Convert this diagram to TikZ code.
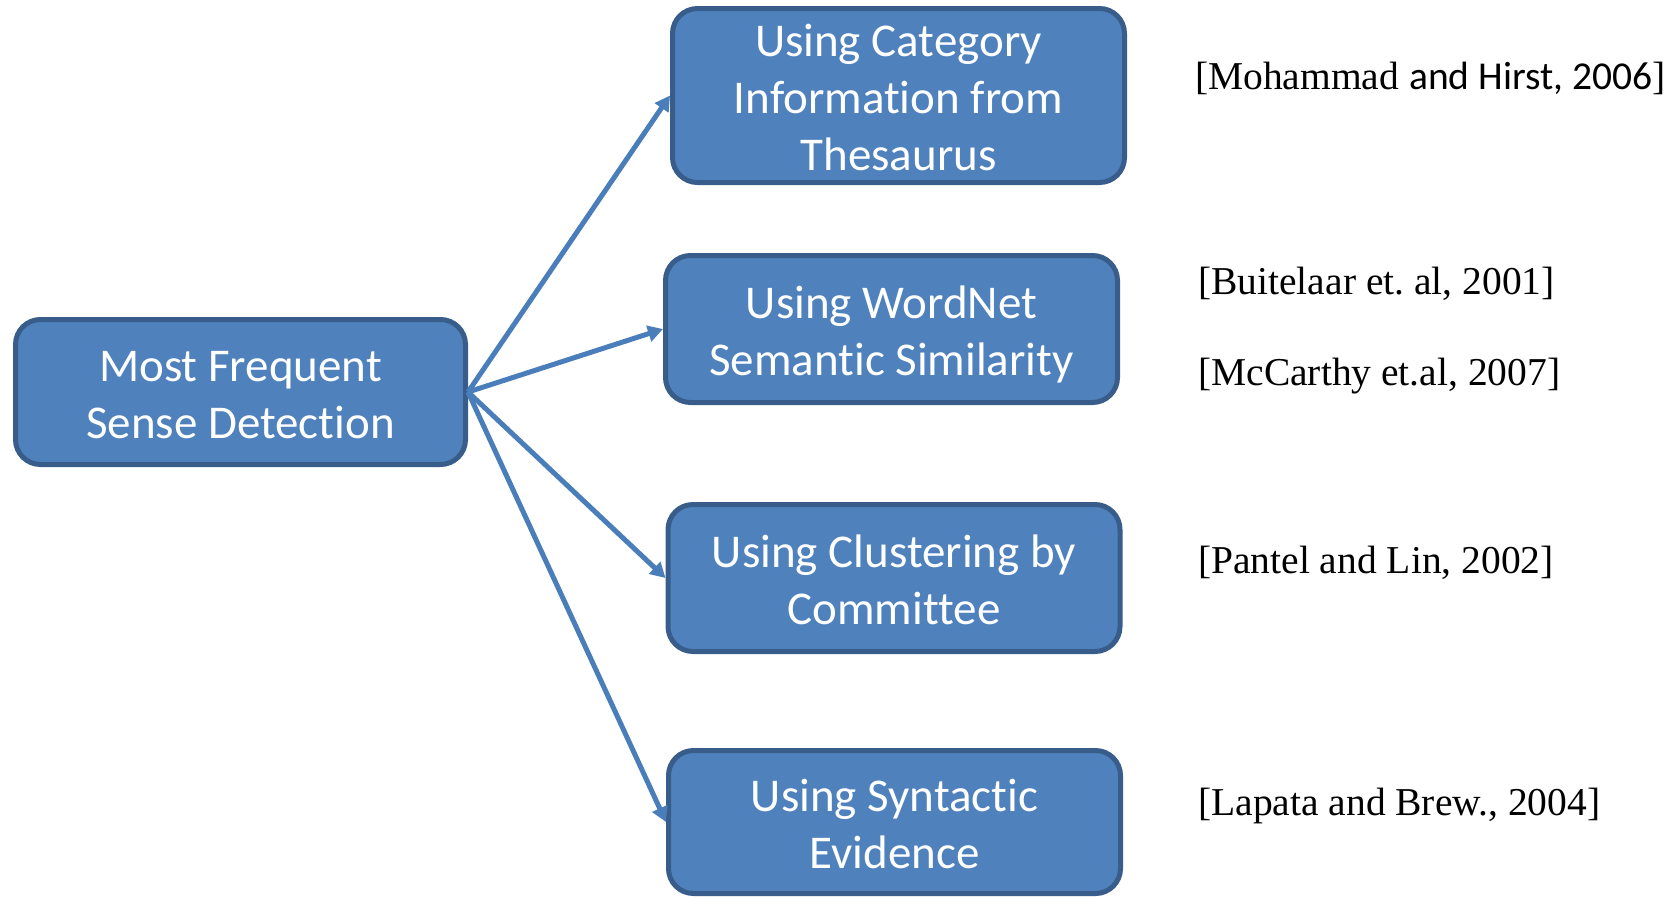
\documentclass[tikz,border=0pt]{standalone}
\usepackage{fontspec}
\setmainfont{Liberation Serif}
\newfontfamily\calib[Ligatures=NoCommon]{Carlito}
\usetikzlibrary{arrows.meta}
\definecolor{boxfill}{HTML}{4F81BD}
\definecolor{boxedge}{HTML}{385D8A}
\definecolor{arrowcol}{HTML}{4A7EBB}
\newcommand\topstrutx{\rule{0pt}{45pt}}
\newcommand\botstrutx{\rule[-10pt]{0pt}{0pt}}
\tikzset{
  blockbox/.style={draw=boxedge, fill=boxfill, line width=5pt, rounded corners=25pt,
    minimum width=452pt, align=center, text=white, inner sep=0pt,
    font=\calib\fontsize{47}{57}\selectfont},
  link/.style={draw=arrowcol, line width=5pt, -{Triangle[length=15pt,width=16pt]}},
  ref/.style={anchor=base west, inner sep=0pt, font=\fontsize{39.5}{47}\selectfont\frenchspacing}
}
\begin{document}
\begin{tikzpicture}[x=1pt,y=-1pt]
\useasboundingbox (0,0) rectangle (1679,898);
\node[blockbox, minimum width=450pt, minimum height=145pt] (mfs) at (240.5,392) {\topstrutx Most Frequent\\Sense Detection\botstrutx};
\node[blockbox, minimum height=174pt] (cat) at (898.5,95.5) {\topstrutx Using Category\\Information from\\Thesaurus\botstrutx};
\node[blockbox, minimum height=147pt] (wn) at (891.5,329) {\topstrutx Using WordNet\\Semantic Similarity\botstrutx};
\node[blockbox, minimum height=147pt] (cbc) at (894,578) {\topstrutx Using Clustering by\\Committee\botstrutx};
\node[blockbox, minimum height=143pt] (syn) at (894.5,822) {\topstrutx Using Syntactic\\Evidence\botstrutx};
\draw[link] (mfs.east) -- (cat.west);
\draw[link] (mfs.east) -- (wn.west);
\draw[link] (mfs.east) -- (cbc.west);
\draw[link] (mfs.east) -- (syn.west);
\node[ref] (r1) at (1195,89) {[Mohammad {\calib and Hirst, 2006}]};
\node[ref] (r2) at (1198,294) {[Buitelaar et. al, 2001]};
\node[ref] (r3) at (1198,385) {[McCarthy et.al, 2007]};
\node[ref] (r4) at (1198,573) {[Pantel and Lin, 2002]};
\node[ref] (r5) at (1198,815) {[Lapata and Brew., 2004]};
\end{tikzpicture}
\end{document}
